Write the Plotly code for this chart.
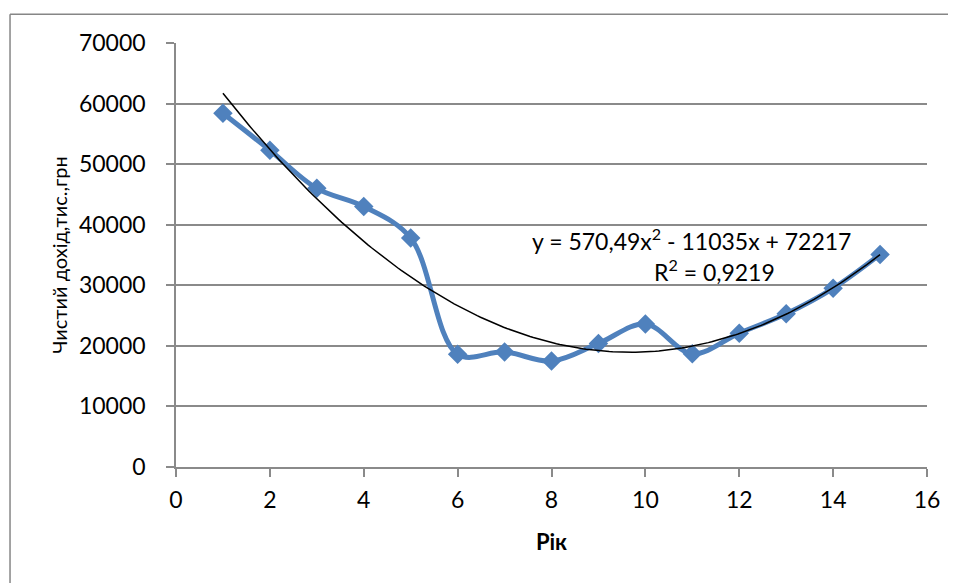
import numpy as np
import plotly.graph_objects as go

years = [1, 2, 3, 4, 5, 6, 7, 8, 9, 10, 11, 12, 13, 14, 15]
income = [58400, 52300, 46000, 43000, 37800, 18600, 19000, 17500, 20400,
          23600, 18700, 22100, 25300, 29500, 35100]
x_ticks = [0, 2, 4, 6, 8, 10, 12, 14, 16]
y_ticks = [0, 10000, 20000, 30000, 40000, 50000, 60000, 70000]
eq_line1 = "y = 570,49x<sup>2</sup> - 11035x + 72217"
eq_line2 = "R<sup>2</sup> = 0,9219"

# polynomial (order 2) trendline fitted to the data, as the spreadsheet does
coef = np.polyfit(years, income, 2)
tx = np.linspace(min(years), max(years), 200)
ty = np.polyval(coef, tx)

FONT = "Lato"
BLUE = "#4F81BD"
GRID = "#8A8A8A"

fig = go.Figure()
fig.add_trace(go.Scatter(
    x=years, y=income, mode="lines+markers",
    line=dict(color=BLUE, width=5, shape="spline", smoothing=1.0),
    marker=dict(symbol="diamond", size=15, color=BLUE),
    showlegend=False, hoverinfo="skip"))
fig.add_trace(go.Scatter(
    x=tx, y=ty, mode="lines", line=dict(color="black", width=1.5),
    showlegend=False, hoverinfo="skip"))

fig.add_annotation(xref="x", yref="y", x=10.99, y=37640, text=eq_line1,
                   showarrow=False, font=dict(family=FONT, size=23, color="black"),
                   xanchor="center", yanchor="middle")
fig.add_annotation(xref="x", yref="y", x=11.48, y=32520, text=eq_line2,
                   showarrow=False, font=dict(family=FONT, size=23, color="black"),
                   xanchor="center", yanchor="middle")

# outer chart border (only top and left edges fall inside the picture)
fig.add_shape(type="line", xref="paper", yref="paper",
              x0=-0.221, x1=1.2, y0=1.068, y1=1.068,
              line=dict(color="#868686", width=1.5), layer="below")
fig.add_shape(type="line", xref="paper", yref="paper",
              x0=-0.221, x1=-0.221, y0=-0.4, y1=1.068,
              line=dict(color="#868686", width=1.5), layer="below")

fig.update_layout(
    width=956, height=583,
    margin=dict(l=168, r=37, t=35, b=124),
    paper_bgcolor="white", plot_bgcolor="white",
    font=dict(family=FONT, size=23, color="black"),
    xaxis=dict(range=[0, 16], tickvals=x_ticks, ticktext=[str(v) for v in x_ticks],
               showgrid=False, zeroline=False, showline=True, linecolor=GRID,
               linewidth=1.5, ticks="outside", ticklen=8, tickcolor=GRID, tickwidth=1.5,
               tickfont=dict(family=FONT, size=23), ticklabelstandoff=4,
               title=dict(text="<b>Рік</b>", font=dict(family=FONT, size=22), standoff=22)),
    yaxis=dict(range=[0, 70000], tickvals=y_ticks, ticktext=[str(v) for v in y_ticks],
               showgrid=True, gridcolor=GRID, gridwidth=1.8, zeroline=False,
               showline=True, linecolor=GRID, linewidth=1.5, ticks="outside",
               ticklen=8, tickcolor=GRID, tickwidth=1.5,
               tickfont=dict(family=FONT, size=23), ticklabelstandoff=16,
               title=dict(text="Чистий дохід,тис.,грн", font=dict(family=FONT, size=20),
                          standoff=6)),
)

fig.write_html("out.html")
